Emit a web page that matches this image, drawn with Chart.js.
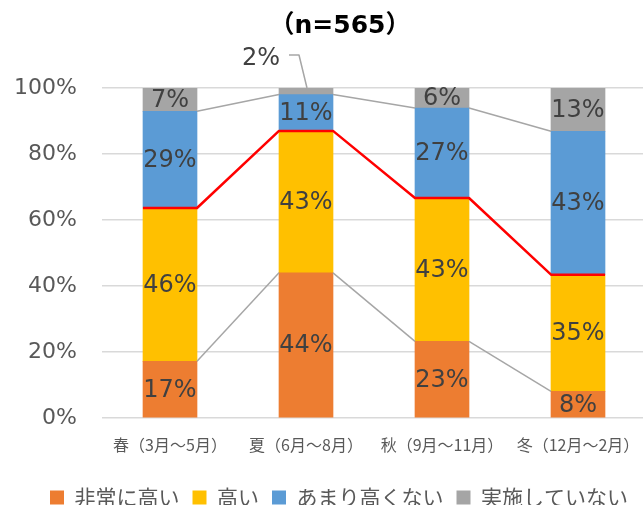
<!DOCTYPE html>
<html lang="ja">
<head>
<meta charset="utf-8">
<title>季節別</title>
<script src="https://cdn.jsdelivr.net/npm/chart.js@4.4.1/dist/chart.umd.min.js"></script>
<style>
    html, body { margin: 0; padding: 0; overflow: hidden; background: #fff; }
    #wrap { width: 650px; height: 518px; }
</style>
</head>
<body>
<div id="wrap"><canvas id="seasonChart" width="650" height="518"></canvas></div>
<script>
// --- Data ---
const seasons = ['春（3月～5月）', '夏（6月～8月）', '秋（9月～11月）', '冬（12月～2月）'];
const seriesNames = ['非常に高い', '高い', 'あまり高くない', '実施していない'];
const veryHigh = [17, 44, 23, 8];
const high = [46, 43, 43, 35];
const notVeryHigh = [29, 11, 27, 43];
const notDone = [7, 2, 6, 13];
const yTicks = [0, 20, 40, 60, 80, 100];
const sampleText = '（n=565）';

const seriesColors = ['#ED7D31', '#FFC000', '#5B9BD5', '#A5A5A5'];
const rawSeries = [veryHigh, high, notVeryHigh, notDone];

// 100% stacked: each bar is scaled to its own total (like Excel does)
const totals = seasons.map((_, i) => rawSeries.reduce((acc, s) => acc + s[i], 0));
const shares = rawSeries.map(s => s.map((v, i) => v / totals[i] * 100));

// Title, series lines, data labels and the callout for the small "2%" segment
const overlayPlugin = {
    id: 'overlay',
    afterLayout(chart) {
        // legend sits a little right of centre in the original
        if (chart.legend) {
            chart.legend.left += 16;
            chart.legend.right += 16;
        }
    },
    afterDatasetsDraw(chart) {
        const ctx = chart.ctx;
        const metas = rawSeries.map((_, i) => chart.getDatasetMeta(i).data);
        ctx.save();

        // grey series lines between bars (top of series 0 and 2)
        ctx.strokeStyle = '#a6a6a6';
        ctx.lineWidth = 1.5;
        [0, 2].forEach(s => {
            const bars = metas[s];
            for (let i = 0; i < bars.length - 1; i++) {
                const a = bars[i], b = bars[i + 1];
                ctx.beginPath();
                ctx.moveTo(a.x + a.width / 2, a.y);
                ctx.lineTo(b.x - b.width / 2, b.y);
                ctx.stroke();
            }
        });

        // red line along the top of "高い"
        ctx.strokeStyle = '#ff0000';
        ctx.lineWidth = 2.5;
        ctx.lineJoin = 'round';
        ctx.beginPath();
        metas[1].forEach((bar, i) => {
            const left = bar.x - bar.width / 2;
            const right = bar.x + bar.width / 2;
            if (i === 0) ctx.moveTo(left, bar.y); else ctx.lineTo(left, bar.y);
            ctx.lineTo(right, bar.y);
        });
        ctx.stroke();

        // data labels
        ctx.font = '24px "DejaVu Sans", sans-serif';
        ctx.fillStyle = '#404040';
        ctx.textBaseline = 'middle';
        metas.forEach((bars, s) => {
            bars.forEach((bar, i) => {
                const text = rawSeries[s][i] + '%';
                if (s === 3 && i === 1) {
                    // too thin: label sits above with a leader line
                    ctx.strokeStyle = '#a6a6a6';
                    ctx.lineWidth = 1.5;
                    ctx.beginPath();
                    ctx.moveTo(bar.x - 17, bar.y - 33);
                    ctx.lineTo(bar.x - 7, bar.y - 33);
                    ctx.lineTo(bar.x + 1, bar.y);
                    ctx.stroke();
                    ctx.textAlign = 'right';
                    ctx.fillText(text, bar.x - 26, bar.y - 29);
                    return;
                }
                ctx.textAlign = 'center';
                ctx.fillText(text, bar.x, (bar.y + bar.base) / 2 + 1);
            });
        });

        // title
        ctx.font = 'bold 25px "DejaVu Sans", "Noto Sans CJK JP", sans-serif';
        ctx.fillStyle = '#000000';
        ctx.textAlign = 'center';
        ctx.fillText(sampleText, 340, 26);
        ctx.restore();
    }
};

const ctx = document.getElementById('seasonChart');
new Chart(ctx, {
    type: 'bar',
    data: {
        labels: seasons,
        datasets: seriesNames.map((name, s) => ({
            label: name,
            data: shares[s],
            backgroundColor: seriesColors[s],
            borderWidth: 0,
            barThickness: 54
        }))
    },
    options: {
        responsive: false,
        animation: false,
        devicePixelRatio: 1,
        layout: { padding: { top: 88, left: 0, right: 4, bottom: 0 } },
        scales: {
            x: {
                stacked: true,
                offset: true,
                grid: { display: false },
                border: { display: false },
                ticks: {
                    color: '#595959',
                    padding: 9,
                    maxRotation: 0,
                    font: { size: 16, family: '"Noto Sans CJK JP", sans-serif' }
                },
                afterFit(scale) {
                    scale.height = 56;
                    scale.paddingLeft = 0;
                    scale.paddingRight = 0;
                }
            },
            y: {
                stacked: true,
                min: yTicks[0],
                max: yTicks[yTicks.length - 1],
                afterBuildTicks(scale) { scale.ticks = yTicks.map(v => ({ value: v })); },
                grid: { color: '#d9d9d9', lineWidth: 1.5, drawTicks: false },
                border: { display: false },
                ticks: {
                    color: '#595959',
                    padding: 25,
                    font: { size: 22, family: '"DejaVu Sans", sans-serif' },
                    callback: v => v + '%'
                },
                afterFit(scale) { scale.width = 102; }
            }
        },
        plugins: {
            legend: {
                position: 'bottom',
                labels: {
                    boxWidth: 14,
                    boxHeight: 14,
                    padding: 13,
                    color: '#595959',
                    font: { size: 21, family: '"Noto Sans CJK JP", sans-serif' }
                }
            },
            tooltip: { enabled: false },
            title: { display: false }
        }
    },
    plugins: [overlayPlugin]
});
</script>
</body>
</html>
